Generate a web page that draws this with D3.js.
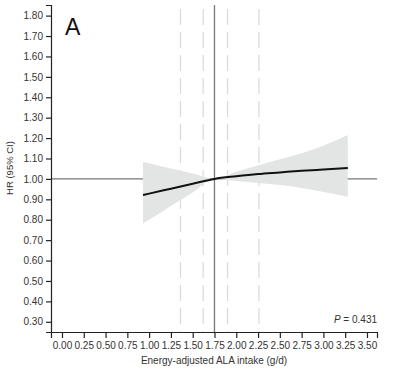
<!DOCTYPE html>
<html><head><meta charset="utf-8">
<script src="https://cdn.jsdelivr.net/npm/d3@7"></script>
<style>body{margin:0;background:#fff}svg{display:block;font-family:"Liberation Sans",Arial,sans-serif}</style>
</head><body><svg id="c" width="393" height="369"></svg>
<script>
const xVals  = [0.93, 1.0, 1.25, 1.5, 1.75, 2.0, 2.25, 2.5, 2.75, 3.0, 3.28];
const hr     = [0.921, 0.928, 0.952, 0.976, 1.0, 1.013, 1.024, 1.032, 1.040, 1.046, 1.053];
const lower  = [0.782, 0.800, 0.867, 0.934, 1.0, 0.990, 0.980, 0.970, 0.956, 0.936, 0.913];
const upper  = [1.084, 1.077, 1.051, 1.026, 1.0, 1.035, 1.066, 1.096, 1.126, 1.163, 1.215];
const dashedX = [1.36, 1.62, 1.90, 2.26];
const refX = 1.75;
const xTicks = [0,0.25,0.5,0.75,1,1.25,1.5,1.75,2,2.25,2.5,2.75,3,3.25,3.5];
const yTicks = [0.3,0.4,0.5,0.6,0.7,0.8,0.9,1.0,1.1,1.2,1.3,1.4,1.5,1.6,1.7,1.8];

const svg = d3.select("#c");
const x = d3.scaleLinear().domain([-0.126, 3.615]).range([51, 377]);
const y = d3.scaleLinear().domain([0.25, 1.852]).range([332, 5]);
const data = xVals.map((v,i)=>({x:v,hr:hr[i],lo:lower[i],hi:upper[i]}));

svg.selectAll("line.d").data(dashedX).join("line")
  .attr("x1",d=>x(d)).attr("x2",d=>x(d)).attr("y1",y.range()[1]+4).attr("y2",y.range()[0])
  .attr("stroke","#d9d9d9").attr("stroke-width",1.2).attr("stroke-dasharray","16,7");

svg.append("line").attr("x1",51).attr("x2",377).attr("y1",y(1)).attr("y2",y(1))
  .attr("stroke","#777").attr("stroke-width",1.2);

svg.append("path").datum(data)
  .attr("d", d3.area().x(d=>x(d.x)).y0(d=>y(d.lo)).y1(d=>y(d.hi)).curve(d3.curveMonotoneX))
  .attr("fill","#e3e4e4");

svg.append("line").attr("x1",x(refX)).attr("x2",x(refX)).attr("y1",5).attr("y2",332)
  .attr("stroke","#777").attr("stroke-width",1.3);

svg.append("path").datum(data)
  .attr("d", d3.line().x(d=>x(d.x)).y(d=>y(d.hr)).curve(d3.curveMonotoneX))
  .attr("fill","none").attr("stroke","#111").attr("stroke-width",2);

const xa = svg.append("g").attr("transform","translate(0,332)")
  .call(d3.axisBottom(x).tickValues(xTicks).tickFormat(d3.format(".2f")).tickSize(6).tickPadding(4));
const ya = svg.append("g").attr("transform","translate(51,0)")
  .call(d3.axisLeft(y).tickValues(yTicks).tickFormat(d3.format(".2f")).tickSize(5).tickPadding(3));
[xa,ya].forEach(g=>{
  g.select(".domain").attr("stroke","#222").attr("stroke-width",1.2);
  g.selectAll(".tick line").attr("stroke","#222").attr("stroke-width",1.2);
  g.selectAll("text").attr("fill","#333").style("font-size","10px").style("font-family","'Liberation Sans',Arial,sans-serif");
});

svg.append("text").attr("x",65).attr("y",35).text("A")
  .style("font-size","23px").attr("fill","#111");
svg.append("text").attr("transform","translate(13,168) rotate(-90)").attr("text-anchor","middle")
  .text("HR (95% CI)").style("font-size","9.5px").attr("fill","#333");
svg.append("text").attr("x",214).attr("y",364).attr("text-anchor","middle")
  .text("Energy-adjusted ALA intake (g/d)").style("font-size","10px").attr("fill","#333");
const pt = svg.append("text").attr("x",377).attr("y",323).attr("text-anchor","end")
  .style("font-size","10px").attr("fill","#333");
pt.append("tspan").style("font-style","italic").text("P");
pt.append("tspan").text(" = 0.431");
</script></body></html>
